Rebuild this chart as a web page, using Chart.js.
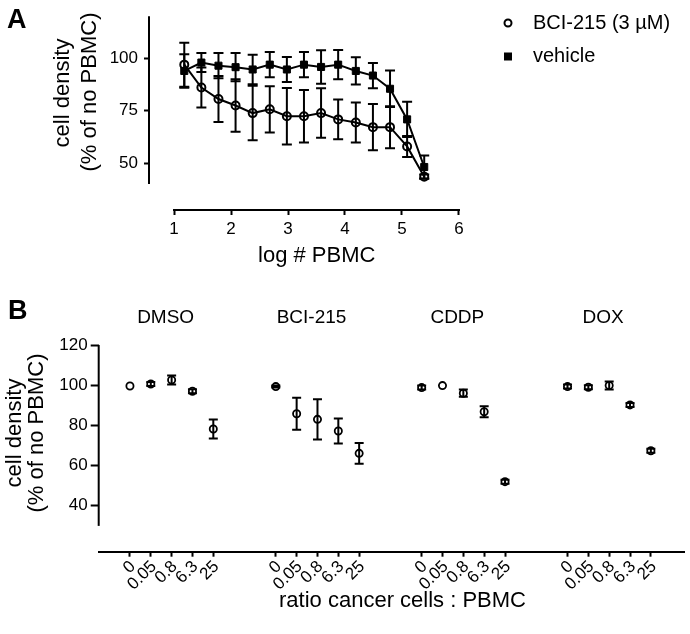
<!DOCTYPE html>
<html>
<head>
<meta charset="utf-8">
<script src="https://cdn.jsdelivr.net/npm/chart.js@4.4.0/dist/chart.umd.min.js"></script>
<style>
  body { margin: 0; background: #fff; overflow: hidden; }
  #wrap { position: relative; width: 690px; height: 634px; font-family: "Liberation Sans", Arial, sans-serif; }
  .panel { position: absolute; left: 0; width: 690px; }
  .letter { position: absolute; font-weight: bold; font-size: 27px; line-height: 1; color: #000; }
</style>
</head>
<body>
<div id="wrap">
  <div class="panel" style="top:0;height:280px"><canvas id="chartA"></canvas></div>
  <div class="panel" style="top:280px;height:354px"><canvas id="chartB"></canvas></div>
  <div class="letter" style="left:7px;top:6px">A</div>
  <div class="letter" style="left:8px;top:297px">B</div>
</div>
<script>
Chart.defaults.font.family = '"Liberation Sans", Arial, sans-serif';
Chart.defaults.color = '#000';
Chart.defaults.animation = false;

// ---- panel A: cell density vs log # PBMC
const logPBMC = [1.18, 1.48, 1.78, 2.08, 2.38, 2.68, 2.98, 3.28, 3.58, 3.88, 4.19, 4.49, 4.79, 5.09, 5.39];
const bciMean = [96.9, 86.0, 80.5, 77.4, 73.8, 75.6, 72.3, 72.3, 73.8, 70.8, 69.3, 67.1, 67.1, 57.9, 43.5];
const bciErr  = [10.5, 9.5, 11, 12.5, 13, 11, 13.5, 12.5, 11.8, 9.5, 9.5, 11, 10, 5, 1];
const vehMean = [93.9, 97.9, 96.4, 95.7, 94.6, 96.9, 94.6, 96.9, 95.8, 96.9, 93.9, 91.7, 85.4, 70.8, 48.1];
const vehErr  = [8, 4.5, 6, 6.7, 7, 6, 6, 6, 8, 7, 6.5, 6, 8.7, 8.4, 5.5];
const xTicksA = [1, 2, 3, 4, 5, 6];
const yTicksA = [50, 75, 100];

// ---- panel B: cell density per drug and ratio
const drugs  = ['DMSO', 'BCI-215', 'CDDP', 'DOX'];
const ratios = ['0', '0.05', '0.8', '6.3', '25'];
const dmsoMean = [99.6, 100.6, 102.6, 97.0, 78.2];
const dmsoErr  = [0, 1, 2.2, 1, 4.7];
const bciBMean = [99.3, 85.8, 83.0, 77.2, 66.1];
const bciBErr  = [0.5, 8, 10, 6.2, 5.2];
const cddpMean = [98.8, 99.8, 96.0, 86.8, 52.0];
const cddpErr  = [1, 0, 1.8, 2.7, 1];
const doxMean  = [99.3, 99.0, 99.9, 90.2, 67.4];
const doxErr   = [1, 1, 2, 1, 1];
const yTicksB = [40, 60, 80, 100, 120];

const groupMeans = [dmsoMean, bciBMean, cddpMean, doxMean];
const groupErrs  = [dmsoErr, bciBErr, cddpErr, doxErr];

// 5 ratios per drug, two empty slots between drugs
function slot(g, i) { return g * 7 + i + 1; }

const errorBars = {
  id: 'errorBars',
  afterDatasetsDraw(chart, args, opts) {
    const ctx = chart.ctx;
    const yScale = chart.scales.y;
    ctx.save();
    ctx.strokeStyle = '#000';
    ctx.lineWidth = 2;
    chart.data.datasets.forEach((ds, di) => {
      if (!ds.errors) return;
      chart.getDatasetMeta(di).data.forEach((pt, i) => {
        const e = ds.errors[i];
        if (!e) return;
        const v = ds.data[i].y;
        const top = yScale.getPixelForValue(v + e);
        const bot = yScale.getPixelForValue(v - e);
        const c = opts.cap;
        ctx.beginPath();
        ctx.moveTo(pt.x, top); ctx.lineTo(pt.x, bot);
        ctx.moveTo(pt.x - c, top); ctx.lineTo(pt.x + c, top);
        ctx.moveTo(pt.x - c, bot); ctx.lineTo(pt.x + c, bot);
        ctx.stroke();
      });
    });
    ctx.restore();
  }
};

// axis lines that don't span the whole chart area (prism style)
const axisLines = {
  id: 'axisLines',
  afterDraw(chart, args, opts) {
    const { ctx, chartArea } = chart;
    const x = chart.scales.x, y = chart.scales.y;
    ctx.save();
    ctx.strokeStyle = '#000';
    ctx.lineWidth = 2;
    ctx.beginPath();
    ctx.moveTo(chartArea.left, y.getPixelForValue(opts.yFrom));
    ctx.lineTo(chartArea.left, y.getPixelForValue(opts.yTo));
    if (opts.xFrom !== undefined) {
      ctx.moveTo(x.getPixelForValue(opts.xFrom) - 1, chartArea.bottom);
      ctx.lineTo(x.getPixelForValue(opts.xTo) + 1, chartArea.bottom);
    }
    ctx.stroke();
    ctx.restore();
  }
};

const freeText = {
  id: 'freeText',
  afterDraw(chart, args, opts) {
    const ctx = chart.ctx;
    ctx.save();
    ctx.fillStyle = '#000';
    ctx.textBaseline = 'middle';
    (opts.items || []).forEach(it => {
      ctx.font = it.size + 'px "Liberation Sans", Arial, sans-serif';
      ctx.textAlign = it.align || 'center';
      ctx.save();
      ctx.translate(it.x, it.y);
      if (it.rotate) ctx.rotate(it.rotate * Math.PI / 180);
      ctx.fillText(it.text, 0, 0);
      ctx.restore();
    });
    ctx.restore();
  }
};

const groupTitles = {
  id: 'groupTitles',
  afterDraw(chart, args, opts) {
    const ctx = chart.ctx;
    const x = chart.scales.x;
    ctx.save();
    ctx.fillStyle = '#000';
    ctx.font = opts.size + 'px "Liberation Sans", Arial, sans-serif';
    ctx.textAlign = 'center';
    ctx.textBaseline = 'middle';
    drugs.forEach((d, g) => {
      ctx.fillText(d, x.getPixelForValue(slot(g, 2)) + opts.dx, opts.y);
    });
    ctx.restore();
  }
};

const legendA = {
  id: 'legendA',
  afterDraw(chart, args, opts) {
    const ctx = chart.ctx;
    ctx.save();
    ctx.font = opts.size + 'px "Liberation Sans", Arial, sans-serif';
    ctx.textAlign = 'left';
    ctx.textBaseline = 'middle';
    chart.data.datasets.forEach((ds, i) => {
      const y = opts.top + i * opts.spacing;
      ctx.strokeStyle = '#000';
      ctx.fillStyle = '#000';
      ctx.lineWidth = 2;
      if (ds.pointStyle === 'rect') {
        ctx.fillRect(opts.x - 4, y - 4, 8, 8);
      } else {
        ctx.beginPath();
        ctx.arc(opts.x, y, 3.5, 0, Math.PI * 2);
        ctx.stroke();
      }
      ctx.fillText(ds.label, opts.textX, y);
    });
    ctx.restore();
  }
};

new Chart(document.getElementById('chartA'), {
  type: 'scatter',
  data: {
    datasets: [
      {
        label: 'BCI-215 (3 µM)',
        data: logPBMC.map((x, i) => ({ x: x, y: bciMean[i] })),
        errors: bciErr,
        showLine: true,
        borderColor: '#000',
        borderWidth: 2,
        pointStyle: 'circle',
        pointRadius: 4,
        pointBorderWidth: 2,
        pointBorderColor: '#000',
        pointBackgroundColor: 'rgba(0,0,0,0)'
      },
      {
        label: 'vehicle',
        data: logPBMC.map((x, i) => ({ x: x, y: vehMean[i] })),
        errors: vehErr,
        showLine: true,
        borderColor: '#000',
        borderWidth: 2,
        pointStyle: 'rect',
        pointRadius: 5,
        pointBorderWidth: 1,
        pointBorderColor: '#000',
        pointBackgroundColor: '#000'
      }
    ]
  },
  options: {
    responsive: true,
    maintainAspectRatio: false,
    layout: { padding: { top: 3, right: 205.6, left: 0, bottom: 0 } },
    plugins: {
      legend: { display: false },
      tooltip: { enabled: false },
      errorBars: { cap: 5 },
      axisLines: { yFrom: 120, yTo: 40, xFrom: 1, xTo: 6 },
      legendA: { x: 508, textX: 533, top: 23, spacing: 33.5, size: 20 },
      freeText: {
        items: [
          { text: 'cell density', x: 63, y: 93, size: 22, rotate: -90 },
          { text: '(% of no PBMC)', x: 90, y: 92, size: 22, rotate: -90 }
        ]
      }
    },
    scales: {
      x: {
        type: 'linear',
        min: 0.561,
        max: 6.446,
        afterFit(s) { s.height = 70; },
        afterBuildTicks(s) { s.ticks = xTicksA.map(v => ({ value: v })); },
        border: { display: false },
        grid: { drawOnChartArea: false, tickLength: 5, tickWidth: 2, tickColor: '#000' },
        ticks: { padding: 4, font: { size: 17 } },
        title: { display: true, text: 'log # PBMC', font: { size: 22 }, padding: { top: 0, bottom: 11 } }
      },
      y: {
        min: 27.6,
        max: 120,
        afterFit(s) { s.width = 149; },
        afterBuildTicks(s) { s.ticks = yTicksA.map(v => ({ value: v })); },
        border: { display: false },
        grid: { drawOnChartArea: false, tickLength: 5, tickWidth: 2, tickColor: '#000' },
        ticks: { padding: 6, font: { size: 17 } }
      }
    }
  },
  plugins: [errorBars, axisLines, legendA, freeText]
});

new Chart(document.getElementById('chartB'), {
  type: 'scatter',
  data: {
    datasets: drugs.map((d, g) => ({
      label: d,
      data: ratios.map((r, i) => ({ x: slot(g, i), y: groupMeans[g][i] })),
      errors: groupErrs[g],
      showLine: false,
      pointStyle: 'circle',
      pointRadius: 3.6,
      pointBorderWidth: 1.8,
      pointBorderColor: '#000',
      pointBackgroundColor: 'rgba(0,0,0,0)'
    }))
  },
  options: {
    responsive: true,
    maintainAspectRatio: false,
    layout: { padding: { top: 65, right: 2, left: 0, bottom: 0 } },
    plugins: {
      legend: { display: false },
      tooltip: { enabled: false },
      errorBars: { cap: 4.5 },
      axisLines: { yFrom: 120, yTo: 30 },
      groupTitles: { y: 38, dx: -6, size: 19 },
      freeText: {
        items: [
          { text: 'cell density', x: 14.5, y: 153, size: 22, rotate: -90 },
          { text: '(% of no PBMC)', x: 36.5, y: 153, size: 22, rotate: -90 },
          { text: 'ratio cancer cells : PBMC', x: 402.5, y: 321, size: 22 }
        ]
      }
    },
    scales: {
      x: {
        type: 'linear',
        min: -0.5,
        max: 27.6,
        afterFit(s) { s.height = 82.3; },
        afterBuildTicks(s) {
          s.ticks = drugs.flatMap((d, g) => ratios.map((r, i) => ({ value: slot(g, i) })));
        },
        border: { display: true, color: '#000', width: 2 },
        grid: { drawOnChartArea: false, tickLength: 5, tickWidth: 2, tickColor: '#000' },
        ticks: {
          padding: 0,
          labelOffset: 3,
          autoSkip: false,
          minRotation: 45,
          maxRotation: 45,
          font: { size: 17 },
          callback: v => ratios[(v - 1) % 7]
        }
      },
      y: {
        min: 17.16,
        max: 120,
        afterFit(s) { s.width = 98.7; },
        afterBuildTicks(s) { s.ticks = yTicksB.map(v => ({ value: v })); },
        border: { display: false },
        grid: { drawOnChartArea: false, tickLength: 8, tickWidth: 2, tickColor: '#000' },
        ticks: { padding: 3, font: { size: 17 } }
      }
    }
  },
  plugins: [errorBars, axisLines, groupTitles, freeText]
});
</script>
</body>
</html>
